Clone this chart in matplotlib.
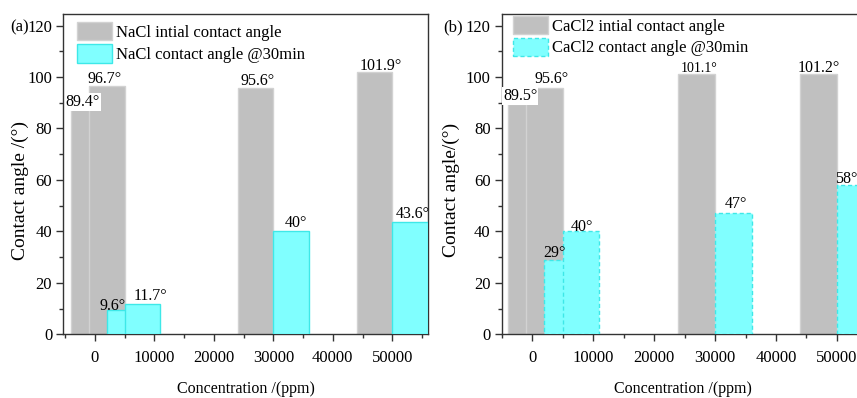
import matplotlib
matplotlib.use("Agg")
import matplotlib.pyplot as plt
from matplotlib.patches import Patch
import numpy as np

# ---- data ----
concentration = [2000, 5000, 30000, 50000]          # ppm
nacl_initial = [89.4, 96.7, 95.6, 101.9]
nacl_30min = [9.6, 11.7, 40, 43.6]
cacl2_initial = [89.5, 95.6, 101.1, 101.2]
cacl2_30min = [29, 40, 47, 58]
x_ticks = [0, 10000, 20000, 30000, 40000, 50000]
y_ticks = [0, 20, 40, 60, 80, 100, 120]

# ---- style ----
plt.rcParams['font.family'] = ['Liberation Serif', 'DejaVu Serif']
FS = 11.5
GRAY = '#c0c0c0'
GRAY_EDGE = '#d2d2d2'
CYAN = '#80ffff'
CYAN_EDGE = '#3ee8e8'
BAR_W = 6000

fig = plt.figure(figsize=(8.57, 3.98), dpi=100)
W, H = 857.0, 398.0


def px_axes(left, top, right, bottom):
    return fig.add_axes([left / W, 1 - bottom / H, (right - left) / W, (bottom - top) / H])


ax_a = px_axes(63.3, 14, 428, 334.3)
ax_b = px_axes(501.7, 14, 873.5, 334.3)


def style_axes(ax, xlim, ylabel, ylabel_x, ylabel_y, xlabel_x):
    ax.set_xlim(*xlim)
    ax.set_ylim(0, 124.5)
    ax.set_xticks(x_ticks)
    ax.set_xticks(np.arange(-5000, 60000, 5000), minor=True)
    ax.set_yticks(y_ticks)
    ax.set_yticks(np.arange(0, 125, 10), minor=True)
    ax.tick_params(axis='both', which='both', direction='out', top=False, right=False,
                   labelsize=FS + 0.5, width=1.0, color='#333333')
    ax.tick_params(axis='both', which='major', length=5)
    ax.tick_params(axis='both', which='minor', length=3)
    ax.tick_params(axis='x', pad=6)
    ax.tick_params(axis='y', pad=3)
    for s in ax.spines.values():
        s.set_linewidth(1.0)
        s.set_color('#333333')
    ax.set_xlabel('Concentration /(ppm)', fontsize=FS)
    ax.set_ylabel(ylabel, fontsize=14)
    ax.yaxis.set_label_coords(ylabel_x, ylabel_y)
    ax.xaxis.set_label_coords(xlabel_x, -0.145)


def draw_panel(ax, initial, after, ls, gray_off, cyan_off, handles_labels, leg_anchor, row_gap,
               label_fs):
    x = np.array(concentration, dtype=float)
    ax.bar(x - BAR_W / 2, initial, width=BAR_W, color=GRAY, edgecolor=GRAY_EDGE,
           linewidth=1.0, zorder=2)
    for xi, v in zip(x, after):
        ax.bar(xi + BAR_W / 2, v, width=BAR_W, color=CYAN, edgecolor=CYAN_EDGE,
               linewidth=1.0, linestyle=ls, zorder=3)

    # value labels
    for xi, v, (dx, dy, boxed), fs in zip(x - BAR_W / 2, initial, gray_off, label_fs):
        kw = dict(bbox=dict(facecolor='white', edgecolor='none', pad=0.5)) if boxed else {}
        ax.annotate(f'{v:g}°', (xi, v), xytext=(dx * 0.72, dy * 0.72),
                    textcoords='offset points', ha='center', va='baseline',
                    fontsize=fs, zorder=6, annotation_clip=False, **kw)
    for xi, v, (dx, dy, boxed) in zip(x + BAR_W / 2, after, cyan_off):
        kw = dict(bbox=dict(facecolor='white', edgecolor='none', pad=0.5)) if boxed else {}
        ax.annotate(f'{v:g}°', (xi, v), xytext=(dx * 0.72, dy * 0.72),
                    textcoords='offset points', ha='center', va='baseline',
                    fontsize=FS, zorder=6, annotation_clip=False, **kw)

    handles = [Patch(facecolor=GRAY, edgecolor=GRAY_EDGE, linewidth=1.0),
               Patch(facecolor=CYAN, edgecolor=CYAN_EDGE, linewidth=1.0, linestyle=ls)]
    leg = ax.legend(handles, handles_labels, loc='upper left', bbox_to_anchor=leg_anchor,
                    frameon=False, fontsize=FS + 0.5, handlelength=2.1, handleheight=1.35,
                    handletextpad=0.25, labelspacing=row_gap, borderpad=0, borderaxespad=0)
    leg.set_zorder(4)


style_axes(ax_a, (-5300, 56000), 'Contact angle /(°)', -0.094, 0.45, 0.5)
style_axes(ax_b, (-4900, 56000), 'Contact angle/(°)', -0.113, 0.45, 0.487)

draw_panel(ax_a, nacl_initial, nacl_30min, '-',
           gray_off=[(-6, -1.6, True), (-2, 2.6, False), (2, 3.4, False), (6, 2.2, False)],
           cyan_off=[(-12, 0, False), (8, 4, False), (5, 4.7, False), (3, 3.9, False)],
           handles_labels=['NaCl intial contact angle', 'NaCl contact angle @30min'],
           leg_anchor=(0.0376, 0.976), row_gap=0.2, label_fs=[FS, FS, FS, FS])

draw_panel(ax_b, cacl2_initial, cacl2_30min, (0, (3, 2)),
           gray_off=[(-6, 4, True), (7, 5, False), (2, 2.6, False), (0, 2.4, False)],
           cyan_off=[(-8, 3, False), (1.5, 0, False), (3, 5, False), (-9, 2, False)],
           handles_labels=['CaCl2 intial contact angle', 'CaCl2 contact angle @30min'],
           leg_anchor=(0.030, 0.995), row_gap=0.18, label_fs=[FS, FS, FS - 1.5, FS])

fig.text(10 / W, 1 - 31.7 / H, '(a)', fontsize=FS + 0.5, va='baseline', ha='left')
fig.text(443 / W, 1 - 31.7 / H, '(b)', fontsize=FS + 0.5, va='baseline', ha='left')

fig.savefig('out.png', dpi=100)
